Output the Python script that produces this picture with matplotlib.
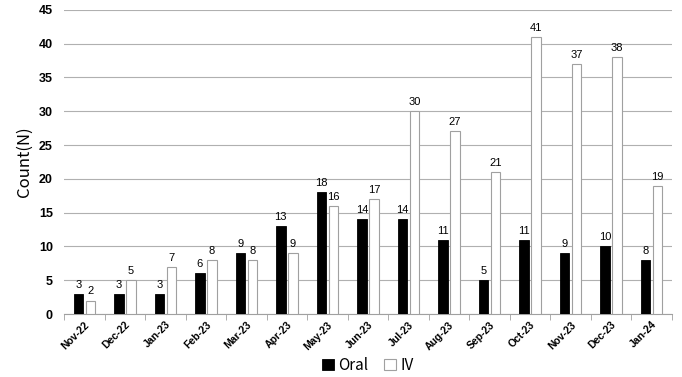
import matplotlib.pyplot as plt
import numpy as np

meses = ['Nov-22', 'Dec-22', 'Jan-23', 'Feb-23', 'Mar-23', 'Apr-23', 'May-23',
         'Jun-23', 'Jul-23', 'Aug-23', 'Sep-23', 'Oct-23', 'Nov-23', 'Dec-23', 'Jan-24']
oral = [3, 3, 3, 6, 9, 13, 18, 14, 14, 11, 5, 11, 9, 10, 8]
iv = [2, 5, 7, 8, 8, 9, 16, 17, 30, 27, 21, 41, 37, 38, 19]

plt.rcParams['font.family'] = ['Liberation Sans', 'DejaVu Sans']

fig = plt.figure(figsize=(6.82, 3.77), dpi=100)
ax = fig.add_axes([0.094, 0.167, 0.891, 0.807])

x = np.arange(len(meses))
ancho = 0.235
b1 = ax.bar(x - 0.15, oral, ancho, color='black', edgecolor='black', linewidth=0.6, label='Oral', zorder=3)
b2 = ax.bar(x + 0.15, iv, ancho, color='white', edgecolor='#a0a0a0', linewidth=0.8, label='IV', zorder=3)

for barras in (b1, b2):
    for r in barras:
        ax.text(r.get_x() + r.get_width() / 2, r.get_height() + 0.6, str(int(r.get_height())),
                ha='center', va='bottom', fontsize=8)

ax.set_xlim(-0.5, len(meses) - 0.5)
ax.set_ylim(0, 45)
ax.set_yticks(range(0, 46, 5))
ax.yaxis.grid(True, color='#b0b0b0', linewidth=0.8, zorder=0)
ax.set_axisbelow(True)
for s in ['top', 'right', 'left']:
    ax.spines[s].set_visible(False)
ax.spines['bottom'].set_color('#a0a0a0')
ax.tick_params(axis='y', length=0, labelsize=9, pad=8)
for t in ax.get_yticklabels():
    t.set_fontweight('bold')
ax.set_xticks(x)
ax.set_xticklabels(meses, rotation=45, ha='right', rotation_mode='anchor', fontsize=7.5, fontweight='bold')
ax.tick_params(axis='x', length=0, pad=4)
ax.set_xticks(np.arange(-0.5, len(meses), 1), minor=True)
ax.tick_params(axis='x', which='minor', length=4, color='#a0a0a0')

ax.set_ylabel('Count(N)', fontsize=12, family=['Noto Sans CJK JP', 'DejaVu Sans'])
ax.legend(loc='center', bbox_to_anchor=(0.5, -0.168), ncol=2, frameon=False,
          handlelength=0.8, handletextpad=0.3, columnspacing=1.0,
          prop={'family': ['Noto Sans CJK JP', 'DejaVu Sans'], 'size': 11})

fig.savefig('out.png', dpi=100)
